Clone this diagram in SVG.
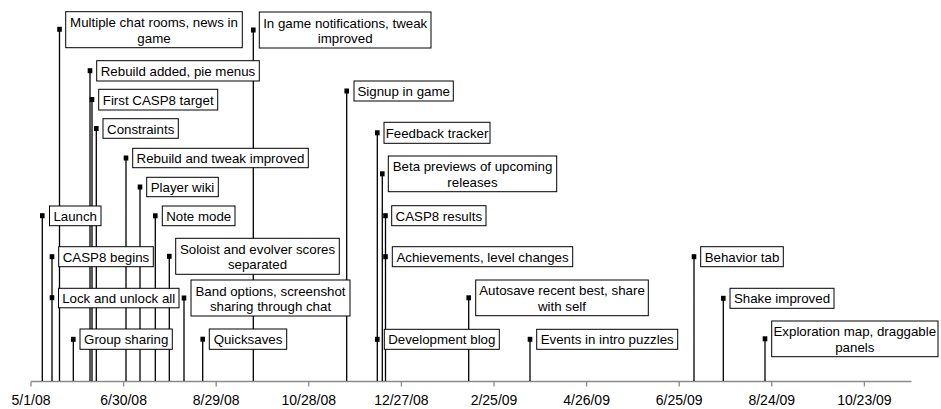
<svg xmlns="http://www.w3.org/2000/svg" width="941" height="409" viewBox="0 0 941 409">
<style>
.ln{stroke:#000;stroke-width:1.3;fill:none}
.bx{fill:#fff;stroke:#000;stroke-width:1}
.mk{fill:#000}
.t{font-family:"Liberation Sans",Arial,sans-serif;font-size:13.3px;fill:#000;text-anchor:middle}
.ax{stroke:#8a8a8a;stroke-width:1.3;fill:none}
.at{font-family:"Liberation Sans",Arial,sans-serif;font-size:14px;fill:#000;text-anchor:middle}
</style>
<rect width="941" height="409" fill="#fff"/>
<g id="axis">
<path class="ax" d="M31,381.5H911.5M31,381.5V386.5M123.6,381.5V386.5M216.2,381.5V386.5M308.8,381.5V386.5M401.4,381.5V386.5M494,381.5V386.5M586.6,381.5V386.5M679.2,381.5V386.5M771.8,381.5V386.5M864.4,381.5V386.5"/>
<text class="at" x="31" y="405">5/1/08</text>
<text class="at" x="123.6" y="405">6/30/08</text>
<text class="at" x="216.2" y="405">8/29/08</text>
<text class="at" x="308.8" y="405">10/28/08</text>
<text class="at" x="401.4" y="405">12/27/08</text>
<text class="at" x="494" y="405">2/25/09</text>
<text class="at" x="586.6" y="405">4/26/09</text>
<text class="at" x="679.2" y="405">6/25/09</text>
<text class="at" x="771.8" y="405">8/24/09</text>
<text class="at" x="864.4" y="405">10/23/09</text>
</g>
<g id="connectors">
<path class="ln" d="M42.3,215.7V381M52,256.7V381M59.5,29.3V381M73.3,339.3V381M90,70.7V381M92,99.5V381M96.3,128.5V381M126,158V381M140,187V381M155.3,215.8V381M169.3,256.3V381M184,298V381M202.7,339.2V381M253.3,30V381M346.7,91V381M377.3,132.8V381M382.3,173.8V381M385.5,215.7V381M468.7,297.8V381M530,339.3V381M694,256.7V381M723.3,298.3V381M765,338.8V381"/>
</g>
<g id="n-launch"><rect class="mk" x="40" y="213.2" width="4.6" height="5"/><rect class="bx" x="49.5" y="206" width="51.5" height="19.7"/><text class="t" x="75.2" y="221">Launch</text></g>
<g id="n-casp8-begins"><rect class="mk" x="49.7" y="254.2" width="4.6" height="5"/><rect class="bx" x="58.7" y="246.7" width="94.6" height="20"/><text class="t" x="106" y="261.8">CASP8 begins</text></g>
<g id="n-lock"><rect class="mk" x="49.7" y="295.2" width="4.6" height="5"/><rect class="bx" x="58.5" y="288.3" width="120.5" height="19.5"/><text class="t" x="118.7" y="303">Lock and unlock all</text></g>
<g id="n-multiple-chat"><rect class="mk" x="57.2" y="26.8" width="4.6" height="5"/><rect class="bx" x="65.7" y="11.7" width="176.6" height="36"/><text class="t" x="154" y="27.2">Multiple chat rooms, news in</text><text class="t" x="154" y="42.6">game</text></g>
<g id="n-group-sharing"><rect class="mk" x="71" y="336.8" width="4.6" height="5"/><rect class="bx" x="80" y="329" width="92.3" height="20.3"/><text class="t" x="126.2" y="344.3">Group sharing</text></g>
<g id="n-rebuild-added"><rect class="mk" x="87.7" y="68.2" width="4.6" height="5"/><rect class="bx" x="96.7" y="60.7" width="162.6" height="20.3"/><text class="t" x="178" y="75.9">Rebuild added, pie menus</text></g>
<g id="n-first-casp8"><rect class="mk" x="89.7" y="97" width="4.6" height="5"/><rect class="bx" x="98.7" y="89.3" width="119" height="20.7"/><text class="t" x="158.2" y="104.6">First CASP8 target</text></g>
<g id="n-constraints"><rect class="mk" x="94" y="126" width="4.6" height="5"/><rect class="bx" x="103" y="118.7" width="75.3" height="19.6"/><text class="t" x="140.7" y="133.5">Constraints</text></g>
<g id="n-rebuild-tweak"><rect class="mk" x="123.7" y="155.5" width="4.6" height="5"/><rect class="bx" x="132.7" y="148.3" width="175.6" height="19.4"/><text class="t" x="220.5" y="163">Rebuild and tweak improved</text></g>
<g id="n-player-wiki"><rect class="mk" x="137.7" y="184.5" width="4.6" height="5"/><rect class="bx" x="146.7" y="177.3" width="71.6" height="19.4"/><text class="t" x="182.5" y="192">Player wiki</text></g>
<g id="n-note-mode"><rect class="mk" x="153" y="213.3" width="4.6" height="5"/><rect class="bx" x="162.3" y="206" width="72.7" height="19.7"/><text class="t" x="198.7" y="221">Note mode</text></g>
<g id="n-soloist"><rect class="mk" x="167" y="253.8" width="4.6" height="5"/><rect class="bx" x="175.7" y="238.3" width="163.6" height="36"/><text class="t" x="257.5" y="253.8">Soloist and evolver scores</text><text class="t" x="257.5" y="269.2">separated</text></g>
<g id="n-band-options"><rect class="mk" x="181.7" y="295.5" width="4.6" height="5"/><rect class="bx" x="191" y="280" width="159" height="36"/><text class="t" x="270.5" y="295.5">Band options, screenshot</text><text class="t" x="270.5" y="310.9">sharing through chat</text></g>
<g id="n-quicksaves"><rect class="mk" x="200.4" y="336.7" width="4.6" height="5"/><rect class="bx" x="209.3" y="329" width="77.4" height="20.3"/><text class="t" x="248" y="344.3">Quicksaves</text></g>
<g id="n-in-game-notifications"><rect class="mk" x="251" y="27.5" width="4.6" height="5"/><rect class="bx" x="259.3" y="12" width="171.7" height="36"/><text class="t" x="345.2" y="27.5">In game notifications, tweak</text><text class="t" x="345.2" y="42.9">improved</text></g>
<g id="n-signup"><rect class="mk" x="344.4" y="88.5" width="4.6" height="5"/><rect class="bx" x="354" y="81" width="99.3" height="20"/><text class="t" x="403.7" y="96">Signup in game</text></g>
<g id="n-feedback"><rect class="mk" x="375" y="130.3" width="4.6" height="5"/><rect class="bx" x="384" y="122.3" width="106" height="21"/><text class="t" x="437" y="138">Feedback tracker</text></g>
<g id="n-dev-blog"><rect class="mk" x="375" y="336.8" width="4.6" height="5"/><rect class="bx" x="384.3" y="329.3" width="115" height="20"/><text class="t" x="441.8" y="344.4">Development blog</text></g>
<g id="n-beta-previews"><rect class="mk" x="380" y="171.3" width="4.6" height="5"/><rect class="bx" x="388.3" y="156" width="168.4" height="35.7"/><text class="t" x="472.5" y="171.4">Beta previews of upcoming</text><text class="t" x="472.5" y="186.8">releases</text></g>
<g id="n-casp8-results"><rect class="mk" x="383.2" y="213.2" width="4.6" height="5"/><rect class="bx" x="391.7" y="205.7" width="94.3" height="20"/><text class="t" x="438.8" y="220.8">CASP8 results</text></g>
<g id="n-achievements"><rect class="mk" x="383.2" y="254.2" width="4.6" height="5"/><rect class="bx" x="392.3" y="246.7" width="180.4" height="20"/><text class="t" x="482.5" y="261.8">Achievements, level changes</text></g>
<g id="n-autosave"><rect class="mk" x="466.4" y="295.3" width="4.6" height="5"/><rect class="bx" x="475.7" y="280" width="172.6" height="35.7"/><text class="t" x="562" y="295.4">Autosave recent best, share</text><text class="t" x="562" y="310.8">with self</text></g>
<g id="n-events"><rect class="mk" x="527.7" y="336.8" width="4.6" height="5"/><rect class="bx" x="536.7" y="329.3" width="141" height="20"/><text class="t" x="607.2" y="344.4">Events in intro puzzles</text></g>
<g id="n-behavior"><rect class="mk" x="691.7" y="254.2" width="4.6" height="5"/><rect class="bx" x="700.7" y="246.7" width="82.6" height="20"/><text class="t" x="742" y="261.8">Behavior tab</text></g>
<g id="n-shake"><rect class="mk" x="721" y="295.8" width="4.6" height="5"/><rect class="bx" x="730" y="288.3" width="104" height="20"/><text class="t" x="782" y="303.4">Shake improved</text></g>
<g id="n-exploration"><rect class="mk" x="762.7" y="336.3" width="4.6" height="5"/><rect class="bx" x="771.7" y="321" width="166.3" height="35.7"/><text class="t" x="854.8" y="336.4">Exploration map, draggable</text><text class="t" x="854.8" y="351.8">panels</text></g>
</svg>
